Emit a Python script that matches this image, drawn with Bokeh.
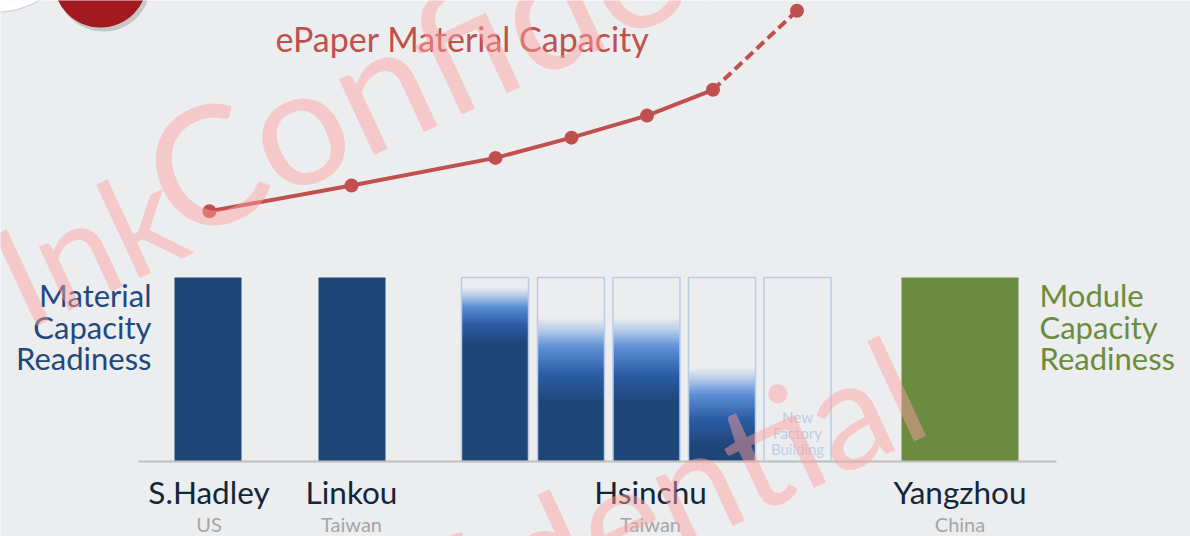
import numpy as np
from bokeh.plotting import figure
from bokeh.models import Range1d
from bokeh.core.properties import value
from bokeh.embed import file_html
from bokeh.resources import INLINE

# ---------------- data ----------------
sites = ["S.Hadley", "Linkou", "Hsinchu", "Yangzhou"]
countries = ["US", "Taiwan", "Taiwan", "China"]

material_bars = ["S.Hadley", "Linkou", "Hsinchu 1", "Hsinchu 2", "Hsinchu 3", "Hsinchu 4", "Hsinchu 5"]
material_ready = [1.0, 1.0, 0.64, 0.315, 0.315, 0.087, 0.0]     # fully ready share of the bar
material_ramp = [1.0, 1.0, 0.946, 0.78, 0.78, 0.51, 0.0]        # top of the ramping (faded) share
module_bars = ["Yangzhou"]
module_ready = [1.0]

capacity_value = [1.36, 1.50, 1.65, 1.76, 1.88, 2.02, 2.45]     # ePaper material capacity (relative)
capacity_planned = [False, False, False, False, False, False, True]

left_label = ["Material", "Capacity", "Readiness"]
right_label = ["Module", "Capacity", "Readiness"]
title_text = "ePaper Material Capacity"
new_factory = ["New", "Factory", "Building"]
watermark = "E Ink Confidential"

# ---------------- layout (slide pixel coordinates) ----------------
W, H = 1190, 536
BG = "#ECEDEF"
NAVY = "#1F4678"
GREEN = "#6A8B40"
RED = "#C0504D"
PX = 184.0           # pixels per unit bar height
BASE_Y = 461.0       # image y of baseline
KB = 0.4             # baseline correction (fraction of font size)


def Y(img_y):
    return (BASE_Y - img_y) / PX


def TY(img_baseline, size):
    return Y(img_baseline - KB * size)


mat_x = [207.5, 351.5, 494.5, 570.5, 646.0, 721.5, 797.0]
mat_w = 67.0
mod_x = [959.5]
mod_w = 117.0
cap_x = [209, 351, 495, 571, 646.5, 712.5, 796.5]
site_x = [208.5, 351.0, 650.0, 959.5]

p = figure(width=W, height=H, x_range=Range1d(0, W),
           y_range=Range1d(Y(H), Y(0)),
           x_axis_type=None, y_axis_type=None, toolbar_location=None,
           output_backend="svg", min_border=0,
           background_fill_color=BG, border_fill_color=BG, outline_line_color=None)
p.grid.visible = False

FONT = value("Lato")

# decorative header pieces (top-left)
p.ellipse(x=[-8], y=[Y(-43)], width=150, height=110 / PX, fill_color="white",
          line_color="#D5D7DA", line_width=1.5)
p.circle(x=[103], y=[Y(-16)], radius=47, fill_color="#7F7F7F", fill_alpha=0.35, line_color=None)
p.circle(x=[100], y=[Y(-20)], radius=47, fill_color="#A2191F", line_color=None)

# gradient colour stops
stops_t = [0.0, 0.33, 0.65, 0.86, 1.0]
stops_c = [(31, 69, 120), (42, 92, 164), (91, 142, 213), (183, 204, 234), (236, 237, 239)]


def ramp_color(t):
    r = np.interp(t, stops_t, [c[0] for c in stops_c])
    g = np.interp(t, stops_t, [c[1] for c in stops_c])
    b = np.interp(t, stops_t, [c[2] for c in stops_c])
    return "#%02x%02x%02x" % (int(round(r)), int(round(g)), int(round(b)))


# material bars
N = 40
for i, name in enumerate(material_bars):
    x = mat_x[i]
    ready = material_ready[i]
    top = material_ramp[i]
    hsinchu = name.startswith("Hsinchu")
    if ready > 0:
        p.quad(left=[x - mat_w / 2], right=[x + mat_w / 2], bottom=[0], top=[ready],
               fill_color=NAVY, line_color=None)
    if top > ready:
        edges = np.linspace(ready, top, N + 1)
        ks = list(range(N - 1, -1, -1))
        p.quad(left=[x - mat_w / 2] * N, right=[x + mat_w / 2] * N,
               bottom=[ready] * N, top=[float(edges[k + 1]) for k in ks],
               fill_color=[ramp_color((k + 0.5) / N) for k in ks], line_color=None)
    if hsinchu:
        p.quad(left=[x - mat_w / 2], right=[x + mat_w / 2], bottom=[0], top=[1.0],
               fill_color=None, line_color="#B8CCE6", line_width=1.5)

# module bar
p.vbar(x=mod_x, width=mod_w, bottom=0, top=module_ready, fill_color=GREEN, line_color=None)

# baseline
p.segment(x0=[138], y0=[0], x1=[1056], y1=[0], line_color="#BFBFBF", line_width=2)

# new factory building text
p.text(x=[mat_x[6]] * 3, y=[TY(422, 15), TY(438, 15), TY(454, 15)], text=new_factory,
       text_font=FONT, text_font_size="15px", text_color="#BCCDE6",
       text_align="center", text_baseline="alphabetic")

# capacity line
actual = [i for i, f in enumerate(capacity_planned) if not f]
last = actual[-1]
p.line([cap_x[i] for i in actual], [capacity_value[i] for i in actual],
       line_color=RED, line_width=4)
p.line([cap_x[last], cap_x[last + 1]], [capacity_value[last], capacity_value[last + 1]],
       line_color=RED, line_width=4, line_dash="10 5")
p.scatter(cap_x, capacity_value, size=14, fill_color=RED, line_color=None)

# texts
p.text(x=[462], y=[TY(52, 34)], text=[title_text], text_font=FONT, text_font_size="34px",
       text_color=RED, text_align="center", text_baseline="alphabetic")

lab_y = [TY(307, 31), TY(338.5, 31), TY(370, 31)]
p.text(x=[151] * 3, y=lab_y, text=left_label, text_font=FONT,
       text_font_size="31px", text_color="#1F497D", text_align="right",
       text_baseline="alphabetic")
p.text(x=[1039] * 3, y=lab_y, text=right_label, text_font=FONT,
       text_font_size="31px", text_color="#6A8C3C", text_align="left",
       text_baseline="alphabetic")

p.text(x=site_x, y=[TY(504, 31.5)] * 4, text=sites, text_font=FONT, text_font_size="31.5px",
       text_color="#12263A", text_align="center", text_baseline="alphabetic")
p.text(x=site_x, y=[TY(531, 20)] * 4, text=countries, text_font=FONT, text_font_size="20px",
       text_color="#A6A6A6", text_align="center", text_baseline="alphabetic")

# watermark
ang = np.deg2rad(25)
wm = dict(text_font=FONT, text_color="#FFA0A0", text_alpha=0.47, angle=ang,
          text_baseline="alphabetic")
p.text(x=[2], y=[Y(282)], text=["Ink"], text_font_size="140px", text_align="left", **wm)
p.text(x=[153], y=[Y(187)], text=["Confidential"], text_font_size="165px",
       text_align="left", **wm)
p.text(x=[911], y=[Y(378)], text=[watermark], text_font_size="150px",
       text_align="right", **wm)

open("out.html", "w").write(file_html(p, INLINE))
